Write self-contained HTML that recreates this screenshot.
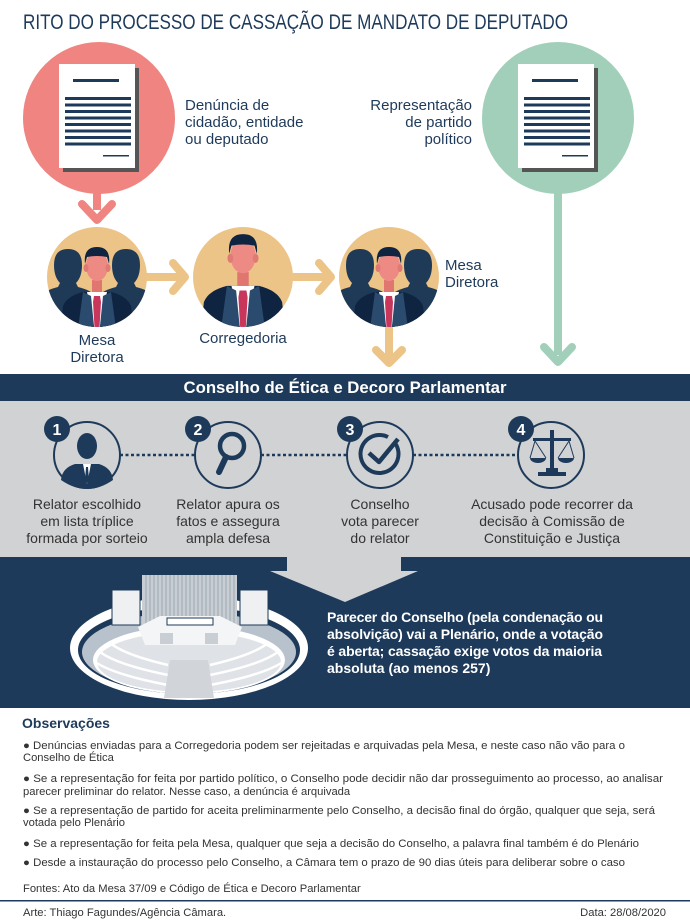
<!DOCTYPE html>
<html><head><meta charset="utf-8"><style>
html,body{margin:0;padding:0;background:#fff}
svg{display:block}
text{font-family:"Liberation Sans",sans-serif}
</style></head><body>
<svg width="690" height="920" viewBox="0 0 690 920" xmlns="http://www.w3.org/2000/svg">
<defs>
<clipPath id="cc"><circle cx="0" cy="0" r="50"/></clipPath>
<g id="man">
  <rect x="-5" y="-6" width="10" height="16" fill="#e0766f"/>
  <path d="M-38 55 L-34 20 Q-30 10 -14 6 L14 6 Q30 10 34 20 L38 55 Z" fill="#0f2440"/>
  <path d="M-10 6 L0 55 L10 6 Z" fill="#fff"/>
  <path d="M-3 10 L3 10 L4 16 L2 50 L-2 50 L-4 16 Z" fill="#c9365c"/>
  <path d="M-14 6 L-6 10 L-2 50 L-20 50 Z" fill="#2a4a6e"/>
  <path d="M14 6 L6 10 L2 50 L20 50 Z" fill="#2a4a6e"/>
  <ellipse cx="0" cy="-20" rx="11" ry="15" fill="#ee8a84"/>
  <ellipse cx="-11" cy="-18" rx="2.5" ry="4" fill="#e07a74"/>
  <ellipse cx="11" cy="-18" rx="2.5" ry="4" fill="#e07a74"/>
  <path d="M-12 -22 Q-14 -39 0 -39 Q14 -39 12 -22 L10 -29 Q0 -31 -10 -29 Z" fill="#0f2440"/>
</g>
<g id="shadow">
  <path d="M-32 60 L-30 12 Q-26 4 -10 0 L-8 -4 Q-14 -10 -14 -22 Q-14 -38 0 -38 Q14 -38 14 -22 Q14 -10 8 -4 L10 0 Q26 4 30 12 L32 60 Z" fill="#1f3a57"/>
</g>
<g id="doc">
  <rect x="4" y="4" width="76" height="104" fill="#555"/>
  <rect x="0" y="0" width="76" height="104" fill="#fff"/>
  <rect x="14" y="15" width="46" height="3" fill="#1e3a5a"/>
  <g fill="#1e3a5a">
    <rect x="6" y="33" width="66" height="3"/><rect x="6" y="39.5" width="66" height="3"/>
    <rect x="6" y="46" width="66" height="3"/><rect x="6" y="52.5" width="66" height="3"/>
    <rect x="6" y="59" width="66" height="3"/><rect x="6" y="65.5" width="66" height="3"/>
    <rect x="6" y="72" width="66" height="3"/><rect x="6" y="78.5" width="66" height="3"/>
  </g>
  <rect x="44" y="91" width="26" height="1.5" fill="#1e3a5a"/>
</g>
</defs>

<text x="23" y="29" font-size="21" fill="#1e3a5a" textLength="545" lengthAdjust="spacingAndGlyphs">RITO DO PROCESSO DE CASSAÇÃO DE MANDATO DE DEPUTADO</text>

<!-- red -->
<rect x="93" y="185" width="8" height="25" fill="#ef8480"/>
<path d="M82 204 L97 220 L112 204" fill="none" stroke="#ef8480" stroke-width="8" stroke-linecap="round" stroke-linejoin="round"/>
<circle cx="99" cy="118" r="76" fill="#ef8480"/>
<use href="#doc" x="59" y="64"/>
<text font-size="15" fill="#1e3a5a"><tspan x="185" y="110">Denúncia de</tspan><tspan x="185" y="127">cidadão, entidade</tspan><tspan x="185" y="144">ou deputado</tspan></text>

<!-- green -->
<rect x="554" y="185" width="8" height="170" fill="#a1cfba"/>
<path d="M544 347 L558 362 L572 347" fill="none" stroke="#a1cfba" stroke-width="8" stroke-linecap="round" stroke-linejoin="round"/>
<circle cx="558" cy="118" r="76" fill="#a1cfba"/>
<use href="#doc" x="518" y="64"/>
<text font-size="15" fill="#1e3a5a" text-anchor="end"><tspan x="472" y="110">Representação</tspan><tspan x="472" y="127">de partido</tspan><tspan x="472" y="144">político</tspan></text>

<!-- tan arrows -->
<g fill="none" stroke="#ecc487" stroke-width="8" stroke-linecap="round" stroke-linejoin="round">
<path d="M147 277 H183 M173 263 L185 277 L173 291"/>
<path d="M293 277 H329 M319 263 L331 277 L319 291"/>
<path d="M389 328 V360 M376 350 L389 363 L402 350"/>
</g>

<!-- people circles -->
<g transform="translate(97,277)"><circle r="50" fill="#ecc487"/><g clip-path="url(#cc)"><use href="#shadow" x="-29" y="10"/><use href="#shadow" x="29" y="10"/><use href="#man" y="9"/></g></g>
<g transform="translate(243,277)"><circle r="50" fill="#ecc487"/><g clip-path="url(#cc)"><use href="#man" transform="translate(0,2) scale(1.15)"/></g></g>
<g transform="translate(389,277)"><circle r="50" fill="#ecc487"/><g clip-path="url(#cc)"><use href="#shadow" x="-29" y="10"/><use href="#shadow" x="29" y="10"/><use href="#man" y="9"/></g></g>
<text font-size="15" fill="#1e3a5a" text-anchor="middle"><tspan x="97" y="345">Mesa</tspan><tspan x="97" y="362">Diretora</tspan><tspan x="243" y="343">Corregedoria</tspan></text>
<text font-size="15" fill="#1e3a5a"><tspan x="445" y="270">Mesa</tspan><tspan x="445" y="287">Diretora</tspan></text>

<!-- band -->
<rect x="0" y="374" width="690" height="27" fill="#1e3a5a"/>
<text x="345" y="393" font-size="17" font-weight="bold" fill="#fff" text-anchor="middle" textLength="323" lengthAdjust="spacingAndGlyphs">Conselho de Ética e Decoro Parlamentar</text>
<rect x="0" y="401" width="690" height="156" fill="#d1d2d4"/>
<rect x="0" y="557" width="690" height="151" fill="#1e3a5a"/>
<path d="M287 557 H401 V571 H418 L345 602 L270 571 H287 Z" fill="#d1d2d4"/>

<!-- steps -->
<g stroke="#1e3a5a" stroke-width="2.5" stroke-dasharray="3,2.5"><line x1="120" y1="455" x2="195" y2="455"/><line x1="261" y1="455" x2="347" y2="455"/><line x1="413" y1="455" x2="518" y2="455"/></g>
<g fill="none" stroke="#1e3a5a" stroke-width="2"><circle cx="87" cy="455" r="33"/><circle cx="228" cy="455" r="33"/><circle cx="380" cy="455" r="33"/><circle cx="551" cy="455" r="33"/></g>
<g fill="#1e3a5a"><path d="M61 480 Q62 468 75 464 L99 464 Q112 468 113 480 Q100 489 87 489 Q74 489 61 480 Z"/><ellipse cx="87" cy="446" rx="10" ry="13"/></g>
<path d="M83 464 L87 484 L91 464 Z" fill="#fff"/><path d="M86 467 L88 467 L89 480 L87 483 L85 480 Z" fill="#1e3a5a"/>
<circle cx="232" cy="446" r="12" fill="none" stroke="#1e3a5a" stroke-width="4.5"/><path d="M226 457 L219 472" stroke="#1e3a5a" stroke-width="6" stroke-linecap="round"/>
<path d="M395 443 A19 19 0 1 1 388 437" fill="none" stroke="#1e3a5a" stroke-width="4"/><path d="M369 453 L379 462 L398 439" fill="none" stroke="#1e3a5a" stroke-width="4.5" stroke-linejoin="round"/>
<g fill="#1e3a5a"><rect x="550" y="430" width="4" height="42"/><rect x="533" y="438" width="38" height="3"/><path d="M530 458 H546 A8 5 0 0 1 530 458 Z"/><path d="M558 458 H574 A8 5 0 0 1 558 458 Z"/><rect x="546" y="468" width="12" height="4"/><rect x="538" y="472" width="28" height="4"/></g>
<g stroke="#1e3a5a" stroke-width="1"><path d="M535 441 L530 458 M535 441 L546 458 M569 441 L558 458 M569 441 L574 458" fill="none"/></g>
<g fill="#1e3a5a"><circle cx="57" cy="429" r="13"/><circle cx="198" cy="429" r="13"/><circle cx="350" cy="429" r="13"/><circle cx="521" cy="429" r="13"/></g>
<g fill="#fff" font-size="16" font-weight="bold" text-anchor="middle"><text x="57" y="435">1</text><text x="198" y="435">2</text><text x="350" y="435">3</text><text x="521" y="435">4</text></g>
<g font-size="14" fill="#333" text-anchor="middle">
<text><tspan x="87" y="509">Relator escolhido</tspan><tspan x="87" y="526">em lista tríplice</tspan><tspan x="87" y="543">formada por sorteio</tspan></text>
<text><tspan x="228" y="509">Relator apura os</tspan><tspan x="228" y="526">fatos e assegura</tspan><tspan x="228" y="543">ampla defesa</tspan></text>
<text><tspan x="380" y="509">Conselho</tspan><tspan x="380" y="526">vota parecer</tspan><tspan x="380" y="543">do relator</tspan></text>
<text><tspan x="552" y="509">Acusado pode recorrer da</tspan><tspan x="552" y="526">decisão à  Comissão de</tspan><tspan x="552" y="543">Constituição e Justiça</tspan></text>
</g>

<!-- plenary -->
<ellipse cx="189" cy="648" rx="119" ry="52" fill="#fff"/>
<ellipse cx="189" cy="650" rx="111" ry="44" fill="#1e3a5a"/>
<ellipse cx="189" cy="652" rx="107" ry="40" fill="#b8c2cc"/>
<ellipse cx="189" cy="660" rx="96" ry="34" fill="#fff"/>
<ellipse cx="189" cy="662" rx="92" ry="30" fill="#dfe2e6"/>
<rect x="142" y="575" width="95" height="50" fill="#c9ced4"/>
<g stroke="#9aa5b1" stroke-width="1"><path d="M146 575V625M150 575V625M154 575V625M158 575V625M162 575V625M166 575V625M170 575V625M174 575V625M178 575V625M182 575V625M186 575V625M190 575V625M194 575V625M198 575V625M202 575V625M206 575V625M210 575V625M214 575V625M218 575V625M222 575V625M226 575V625M230 575V625M234 575V625"/></g>
<rect x="112" y="590" width="28" height="35" fill="#eef0f2" stroke="#1e3a5a"/>
<rect x="240" y="590" width="28" height="35" fill="#eef0f2" stroke="#1e3a5a"/>
<path d="M138 627 L160 616 H220 L242 627 L235 645 H145 Z" fill="#f4f5f6"/>
<rect x="167" y="618" width="46" height="7" fill="#fff" stroke="#1e3a5a"/>
<rect x="160" y="633" width="13" height="11" fill="#c9ced4"/><rect x="205" y="633" width="13" height="11" fill="#c9ced4"/>
<g fill="none" stroke="#fff" stroke-width="2.5"><path d="M110 643 Q125 655 168 665"/><path d="M100 652 Q118 665 168 675"/><path d="M95 662 Q115 675 168 685"/><path d="M268 643 Q253 655 210 665"/><path d="M278 652 Q260 665 210 675"/><path d="M283 662 Q263 675 210 685"/></g>
<path d="M170 660 H208 L214 698 H164 Z" fill="#d1d5da"/>

<text font-size="14" font-weight="bold" fill="#fff"><tspan x="327" y="622" textLength="276">Parecer do Conselho (pela condenação ou</tspan><tspan x="327" y="639" textLength="276">absolvição) vai a Plenário, onde a votação</tspan><tspan x="327" y="656" textLength="275">é aberta; cassação exige votos da maioria</tspan><tspan x="327" y="673">absoluta (ao menos 257)</tspan></text>

<!-- observations -->
<text x="22" y="728" font-size="14" font-weight="bold" fill="#1e3a5a">Observações</text>
<g font-size="11.2" fill="#333">
<text x="23" y="749" textLength="602" lengthAdjust="spacingAndGlyphs">● Denúncias enviadas para a Corregedoria podem ser rejeitadas e arquivadas pela Mesa, e neste caso não vão para o</text>
<text x="23" y="761">Conselho de Ética</text>
<text x="23" y="782" textLength="640" lengthAdjust="spacingAndGlyphs">● Se a representação for feita por partido político, o Conselho pode decidir não dar prosseguimento ao processo, ao analisar</text>
<text x="23" y="795">parecer preliminar do relator. Nesse caso, a denúncia é arquivada</text>
<text x="23" y="814" textLength="632" lengthAdjust="spacingAndGlyphs">● Se a representação de partido for aceita preliminarmente pelo Conselho, a decisão final do órgão, qualquer que seja, será</text>
<text x="23" y="826">votada pelo Plenário</text>
<text x="23" y="847" textLength="616" lengthAdjust="spacingAndGlyphs">● Se a representação for feita pela Mesa, qualquer que seja a decisão do Conselho, a palavra final também é do Plenário</text>
<text x="23" y="866" textLength="602" lengthAdjust="spacingAndGlyphs">● Desde a instauração do processo pelo Conselho, a Câmara tem o prazo de 90 dias úteis para deliberar sobre o caso</text>
<text x="23" y="892">Fontes: Ato da Mesa 37/09 e Código de Ética e Decoro Parlamentar</text>
<text x="23" y="916">Arte: Thiago Fagundes/Agência Câmara.</text>
<text x="666" y="916" text-anchor="end">Data: 28/08/2020</text>
</g>
<rect x="0" y="900" width="690" height="1.5" fill="#1e3a5a"/>
</svg>
</body></html>
